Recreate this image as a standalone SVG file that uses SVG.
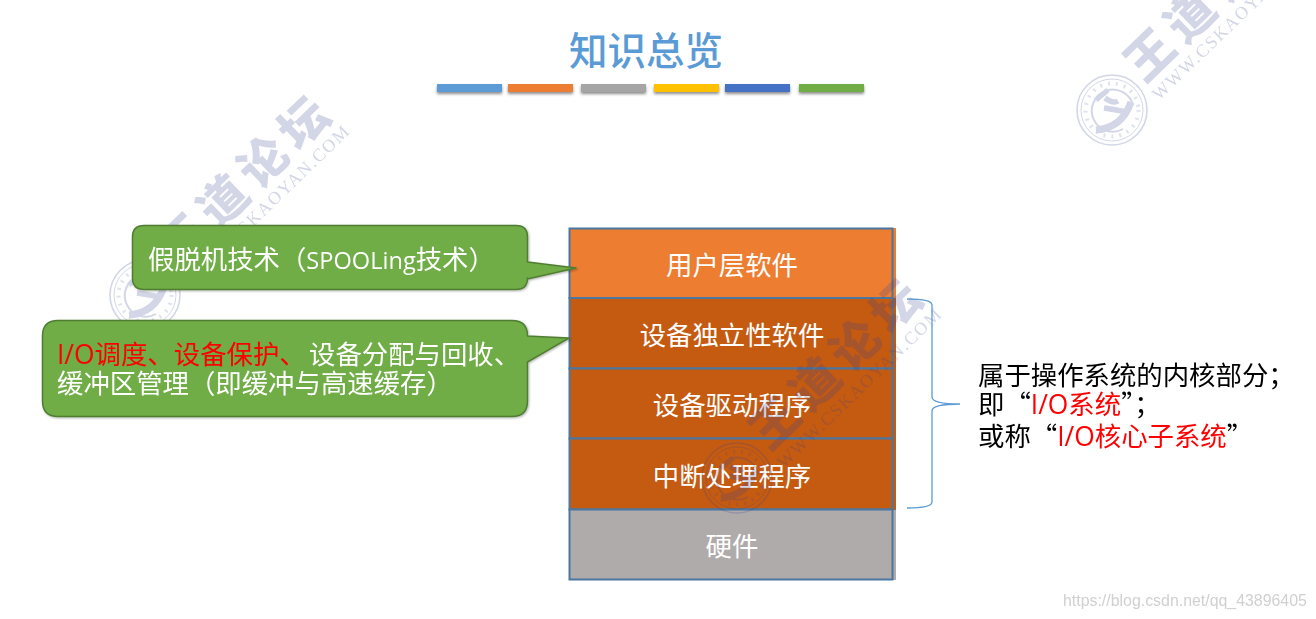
<svg xmlns="http://www.w3.org/2000/svg" width="1316" height="619" viewBox="0 0 1316 619">
<style>
text{font-family:"Noto Sans CJK SC","Noto Sans",sans-serif;font-size:26.4px}
.lat{font-family:"Open Sans","Noto Sans",sans-serif}
.nar{font-family:"Open Sans","Noto Sans",sans-serif;font-size:23.6px}
.c{text-anchor:middle;fill:#fff}
.w{fill:#fff}.r{fill:#f00}.k{fill:#000}
.row{stroke:#4a76a0;stroke-width:2}
.call{fill:#70AD47;stroke:#507E32;stroke-width:1.5;stroke-linejoin:round;filter:url(#sh)}
.bar{filter:url(#bs)}
.wm{fill:#3a4690;opacity:.22}
</style>
<defs>
<filter id="bs" x="-10%" y="-50%" width="120%" height="220%"><feDropShadow dx="0" dy="2" stdDeviation="1.5" flood-color="#000" flood-opacity=".45"/></filter>
<filter id="sh" x="-3%" y="-5%" width="106%" height="112%"><feDropShadow dx="1" dy="1" stdDeviation=".8" flood-color="#000" flood-opacity=".3"/></filter>
<g id="mark" class="wm">
<text transform="translate(183 240) rotate(-44)" x="-24" y="17" style="font-size:48px;font-weight:900;letter-spacing:8px">王道论坛</text>
<text transform="translate(192 286) rotate(-44)" style="font-family:'Liberation Serif',serif;font-size:18px" textLength="220">WWW.CSKAOYAN.COM</text>
<g fill="none" stroke="#3a4690">
<circle cx="145" cy="295" r="35" stroke-width="1.6"/>
<circle cx="145" cy="295" r="31" stroke-width="1"/>
<circle cx="145" cy="295" r="26.500" stroke-width="4" stroke-dasharray="2 6" opacity=".7"/>
<path d="M156 314A21 21 0 1 1 166 290" stroke-width="2"/>
<path d="M129 315Q155 313 164 287" stroke-width="7"/>
<path d="M137 293Q150 295 160 297M138 283Q146 289 151 286" stroke-width="5.500"/>
<path d="M129 285L141 275" stroke-width="5"/>
</g>
</g>
</defs>
<rect width="1316" height="619" fill="#fff"/>
<g id="title">
<text x="646" y="65" text-anchor="middle" style="font-size:38.5px;font-weight:500" fill="#5B9BD5">知识总览</text>
<rect class="bar" x="437" y="84" width="65" height="8" fill="#5B9BD5"/>
<rect class="bar" x="508" y="84" width="65" height="8" fill="#ED7D31"/>
<rect class="bar" x="581" y="84" width="65" height="8" fill="#A5A5A5"/>
<rect class="bar" x="654" y="84" width="65" height="8" fill="#FFC000"/>
<rect class="bar" x="725" y="84" width="65" height="8" fill="#4472C4"/>
<rect class="bar" x="799" y="84" width="65" height="8" fill="#70AD47"/>
</g>
<g id="stack-edge">
<rect x="890" y="228" width="6" height="70" fill="#ED7D31"/>
<rect x="890" y="298" width="6" height="212" fill="#C55A11"/>
<rect x="890" y="510" width="6" height="70" fill="#AFABAB"/>
</g>
<g id="user-layer"><rect class="row" x="569.500" y="228.500" width="323" height="69.500" fill="#ED7D31"/><text class="c" x="732" y="275">用户层软件</text></g>
<g id="device-independent"><rect class="row" x="569.500" y="298" width="323" height="70.500" fill="#C55A11"/><text class="c" x="732" y="345">设备独立性软件</text></g>
<g id="device-driver"><rect class="row" x="569.500" y="368.500" width="323" height="70" fill="#C55A11"/><text class="c" x="732" y="415">设备驱动程序</text></g>
<g id="interrupt"><rect class="row" x="569.500" y="438.500" width="323" height="71" fill="#C55A11"/><text class="c" x="732" y="486">中断处理程序</text></g>
<g id="hardware"><rect class="row" x="569.500" y="509.500" width="323" height="70" fill="#AFABAB"/><text class="c" x="732" y="556">硬件</text></g>
<g id="watermarks">
<use href="#mark"/>
<use href="#mark" transform="translate(592 183)"/>
<use href="#mark" transform="translate(967 -185)"/>
</g>
<g id="connectors">
<path d="M907 299Q932 299 932 305V397Q932 404 960 404Q932 404 932 411V502Q932 508 907 508" fill="none" stroke="#5B9BD5" stroke-width="1.300"/>
</g>
<g id="callout-spooling">
<path class="call" d="M144 225.500H516Q527.500 225.500 527.500 237V262L576 268L527.500 279V278Q527.500 289.500 516 289.500H144Q132.500 289.500 132.500 278V237Q132.500 225.500 144 225.500Z"/>
<text x="148" y="269" class="w">假脱机技术（<tspan class="nar">SPOOLing</tspan>技术）</text>
</g>
<g id="callout-services">
<path class="call" d="M58 320.500H512Q527.500 320.500 527.500 336L569 338L527.500 362V401Q527.500 416.500 512 416.500H58Q42.500 416.500 42.500 401V336Q42.500 320.500 58 320.500Z"/>
<text x="57" y="364" class="w"><tspan class="r"><tspan class="lat">I/O</tspan>调度、设备保护、</tspan><tspan x="309">设备分配与回收、</tspan></text>
<text x="57" y="393" class="w">缓冲区管理（即缓冲与高速缓存）</text>
</g>
<g id="kernel-note">
<text x="978" y="385" class="k">属于操作系统的内核部分；</text>
<text x="978" y="414" class="k">即“<tspan class="r"><tspan class="lat">I/O</tspan>系统</tspan>”；</text>
<text x="978" y="446" class="k">或称“<tspan class="r"><tspan class="lat">I/O</tspan>核心子系统</tspan>”</text>
</g>
<text x="1063" y="606" style="font-family:'Liberation Sans',sans-serif;font-size:15.900px" fill="#d0d0d0">https://blog.csdn.net/qq_43896405</text>
</svg>
